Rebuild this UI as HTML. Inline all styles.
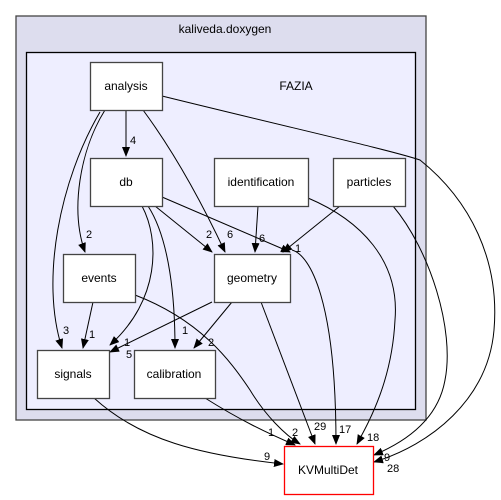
<!DOCTYPE html>
<html><head><style>body{margin:0;background:#fff}svg{display:block}text{font-family:"Liberation Sans",sans-serif;font-size:12px}</style></head><body>
<svg width="501" height="500" viewBox="0 0 501 500">
<defs><marker id="a" markerWidth="10" markerHeight="8" refX="9" refY="4" orient="auto" markerUnits="userSpaceOnUse"><path d="M0,0L10,4L0,8z" fill="#000"/></marker></defs>
<rect x="16" y="16" width="410" height="404" fill="#ddddee" stroke="#444" stroke-width="1.3"/>
<text x="225" y="33" text-anchor="middle">kaliveda.doxygen</text>
<rect x="26.5" y="52.5" width="389" height="357" fill="#eeeeff" stroke="#000" stroke-width="1.3"/>
<text x="296" y="90" text-anchor="middle">FAZIA</text>
<g fill="none" stroke="#000" stroke-width="1">
<path d="M126,110 L126,156" marker-end="url(#a)"/>
<path d="M105,110 C80,150 70,210 85,252" marker-end="url(#a)"/>
<path d="M100,112 C60,180 40,280 62,348" marker-end="url(#a)"/>
<path d="M143,110 C180,160 210,220 225,252" marker-end="url(#a)"/>
<path d="M162,96 C300,130 390,150 420,160 C470,200 500,260 494,330 C488,400 430,445 374,462" marker-end="url(#a)"/>
<path d="M155,206 L212,252" marker-end="url(#a)"/>
<path d="M162,197 L290,252" marker-end="url(#a)"/>
<path d="M292,250 C310,255 336,300 336,444" marker-end="url(#a)"/>
<path d="M142,206 C160,240 160,300 110,345" marker-end="url(#a)"/>
<path d="M148,206 C170,240 175,300 175,348" marker-end="url(#a)"/>
<path d="M258,206 L255,252" marker-end="url(#a)"/>
<path d="M308,198 C360,220 400,260 395,320 C392,380 370,420 357,444" marker-end="url(#a)"/>
<path d="M340,206 L283,252" marker-end="url(#a)"/>
<path d="M393,206 C430,250 455,330 445,380 C438,420 405,442 374,455" marker-end="url(#a)"/>
<path d="M93,302 L83,348" marker-end="url(#a)"/>
<path d="M135,295 C200,320 230,360 250,390 C265,415 285,435 300,444" marker-end="url(#a)"/>
<path d="M212,302 L110,352" marker-end="url(#a)"/>
<path d="M232,302 L194,348" marker-end="url(#a)"/>
<path d="M261,302 L315,444" marker-end="url(#a)"/>
<path d="M94,398 C140,440 200,455 283,464" marker-end="url(#a)"/>
<path d="M205,398 C240,420 265,432 295,445" marker-end="url(#a)"/>
</g>
<g fill="#fff" stroke="#444" stroke-width="1.3">
<rect x="90.5" y="62.5" width="72" height="48"/><rect x="90.5" y="158.5" width="72" height="48"/>
<rect x="214.5" y="158.5" width="94" height="48"/><rect x="333.5" y="158.5" width="72" height="48"/>
<rect x="63.5" y="254.5" width="72" height="48"/><rect x="214.5" y="254.5" width="76" height="48"/>
<rect x="37.5" y="350.5" width="72" height="48"/><rect x="134.5" y="350.5" width="81" height="48"/>
<rect x="284.5" y="446.5" width="89" height="48" stroke="#f00"/>
</g>
<g text-anchor="middle">
<text x="126" y="90">analysis</text><text x="126" y="186">db</text><text x="261" y="186">identification</text>
<text x="369" y="186">particles</text><text x="99" y="282">events</text><text x="252" y="282">geometry</text>
<text x="73" y="378">signals</text><text x="174" y="378">calibration</text><text x="328" y="474">KVMultiDet</text>
</g>
<g>
<text x="130" y="144" style="font-size:11px">4</text><text x="86" y="238" style="font-size:11px">2</text>
<text x="206" y="238" style="font-size:11px">2</text><text x="227" y="238" style="font-size:11px">6</text>
<text x="259" y="242" style="font-size:11px">6</text><text x="295" y="252" style="font-size:11px">1</text>
<text x="63" y="334" style="font-size:11px">3</text><text x="89" y="338" style="font-size:11px">1</text>
<text x="124" y="346" style="font-size:11px">1</text><text x="126" y="358" style="font-size:11px">5</text>
<text x="182" y="334" style="font-size:11px">1</text><text x="208" y="346" style="font-size:11px">2</text>
<text x="268" y="436" style="font-size:11px">1</text><text x="292" y="436" style="font-size:11px">2</text>
<text x="314" y="430" style="font-size:11px">29</text><text x="339" y="433" style="font-size:11px">17</text>
<text x="367" y="441" style="font-size:11px">18</text><text x="264" y="460" style="font-size:11px">9</text>
<text x="384" y="461" style="font-size:11px">9</text><text x="387" y="472" style="font-size:11px">28</text>
</g>
</svg>
</body></html>
